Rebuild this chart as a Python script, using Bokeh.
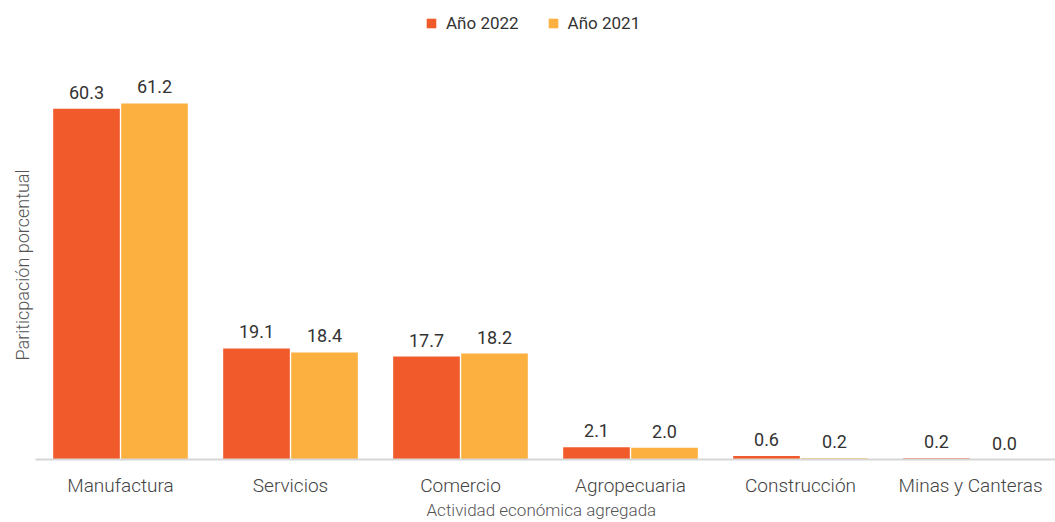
from bokeh.plotting import figure
from bokeh.models import ColumnDataSource, FactorRange, Range1d, Legend, LegendItem, Title
from bokeh.transform import dodge
from bokeh.embed import file_html
from bokeh.resources import INLINE
from bokeh.core.properties import value

categories = ["Manufactura", "Servicios", "Comercio", "Agropecuaria", "Construcción", "Minas y Canteras"]
values_2022 = [60.3, 19.1, 17.7, 2.1, 0.6, 0.2]
values_2021 = [61.2, 18.4, 18.2, 2.0, 0.2, 0.0]
series_names = ["Año 2022", "Año 2021"]
y_title = "Pariticpación  porcentual"
x_title = "Actividad  económica  agregada"

C22 = "#F15A2B"
C21 = "#FBB040"
FONT = "Roboto"
LIGHT = "Roboto Light"

src = ColumnDataSource(dict(
    cat=categories,
    y22=values_2022,
    y21=values_2021,
    l22=[f"{v:.1f}" for v in values_2022],
    l21=[f"{v:.1f}" for v in values_2021],
))

p = figure(
    x_range=FactorRange(*categories),
    y_range=Range1d(0, 78.9),
    width=1055, height=522,
    output_backend="svg", toolbar_location=None,
    min_border_left=35, min_border_right=0, min_border_top=0, min_border_bottom=63,
)
p.outline_line_color = None
p.xgrid.visible = False
p.ygrid.visible = False
p.yaxis.visible = False

r22 = p.vbar(x=dodge("cat", -0.2, range=p.x_range), top="y22", width=0.392,
             source=src, fill_color=C22, line_color=None)
r21 = p.vbar(x=dodge("cat", 0.2, range=p.x_range), top="y21", width=0.392,
             source=src, fill_color=C21, line_color=None)

for col, lab, dx in (("y22", "l22", -0.2), ("y21", "l21", 0.2)):
    p.text(x=dodge("cat", dx, range=p.x_range), y=col, text=lab, source=src,
           text_align="center", text_baseline="bottom", y_offset=-10,
           text_font=value(FONT), text_font_size="18px", text_color="#333333")

ax = p.xaxis[0]
ax.axis_line_color = "#d6d6d6"
ax.axis_line_width = 2
ax.major_tick_line_color = None
ax.minor_tick_line_color = None
ax.major_label_standoff = 8
ax.major_label_text_font = LIGHT
ax.major_label_text_font_size = "19px"
ax.major_label_text_color = "#444444"
ax.axis_label = x_title
ax.axis_label_standoff = 0
ax.axis_label_text_font = LIGHT
ax.axis_label_text_font_style = "normal"
ax.axis_label_text_font_size = "17px"
ax.axis_label_text_color = "#555555"

p.add_layout(Title(text=y_title, align="left", offset=99, standoff=5,
                   text_font=LIGHT, text_font_size="18px", text_font_style="normal",
                   text_color="#555555"), "left")

legend = Legend(items=[LegendItem(label=series_names[0], renderers=[r22]),
                       LegendItem(label=series_names[1], renderers=[r21])],
                orientation="horizontal", location=(390, 426),
                margin=0, padding=2, spacing=28, label_height=20,
                glyph_width=12, glyph_height=12, label_standoff=9,
                label_text_font=FONT, label_text_font_size="17px", label_text_color="#333333",
                border_line_color=None, background_fill_alpha=0)
p.add_layout(legend)

open("out.html", "w").write(file_html(p, INLINE))
